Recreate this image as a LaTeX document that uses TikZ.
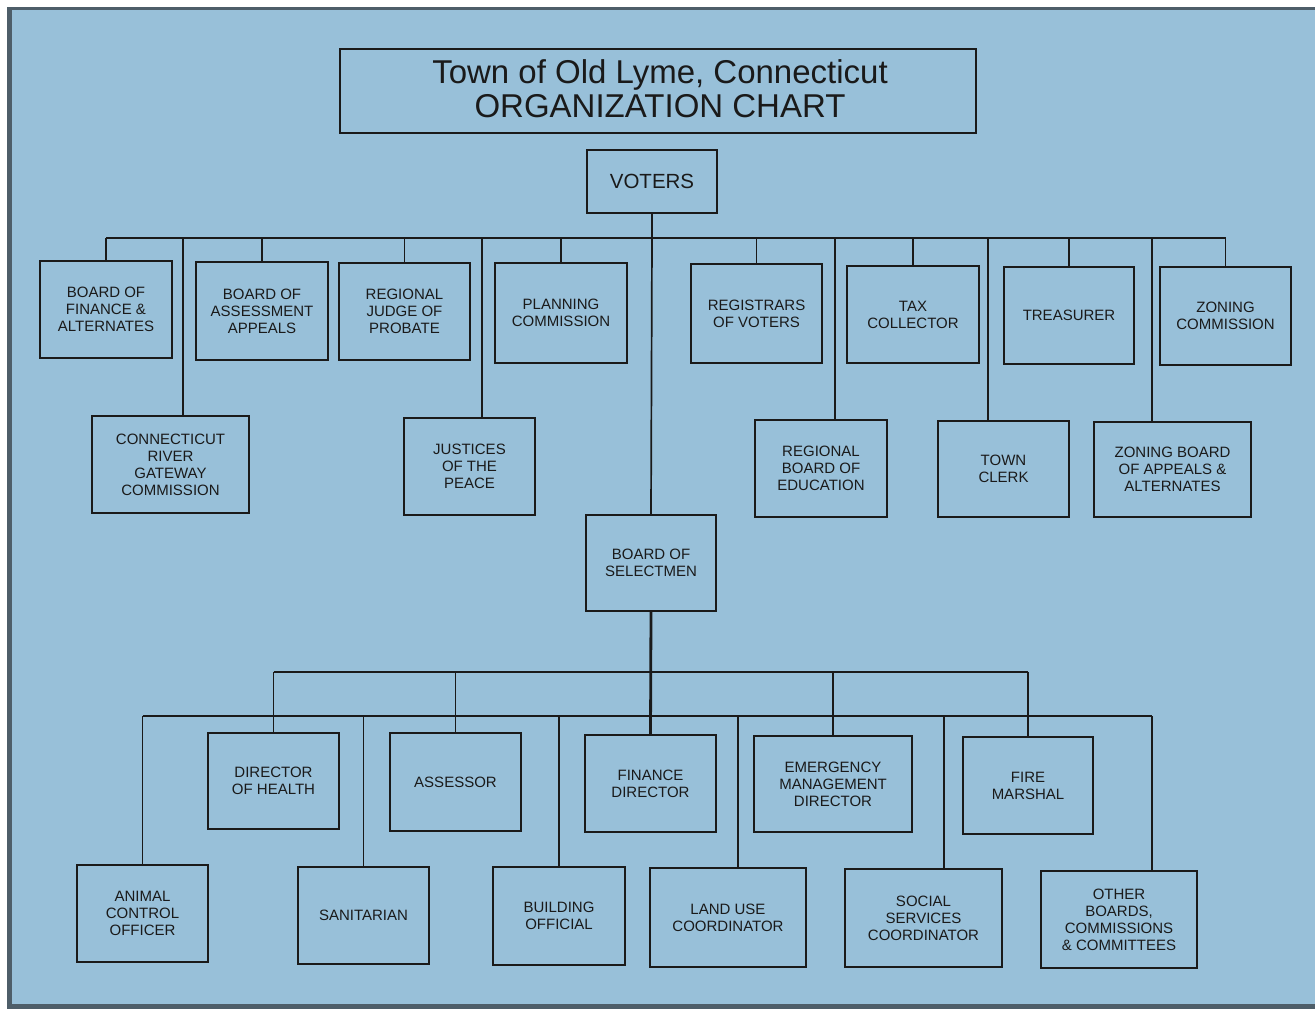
\documentclass[tikz,border=0pt]{standalone}
\usepackage{fontspec}
\setmainfont{Liberation Sans}
\definecolor{bgblue}{HTML}{98C0D9}
\definecolor{frame}{HTML}{4E5E69}
\definecolor{ink}{HTML}{1A1A1A}
\newcommand\obox[6]{\node[box, minimum width={(#4-#2)*1pt}, minimum height={(#5-#3)*1pt}] (#1) at ({(#2+#4)/2},{(#3+#5)/2}) {#6};}
\begin{document}
\begin{tikzpicture}[x=1pt,y=-1pt,
  box/.style={draw=ink, line width=1.7pt, inner sep=0pt, outer sep=0pt, align=center, text=ink,
    font=\fontsize{15}{17}\selectfont},
  titlebox/.style={box, font=\fontsize{33}{34}\selectfont},
  votersbox/.style={box, font=\fontsize{20.5}{22}\selectfont},
  conn/.style={draw=ink, line width=1.7pt},
  trunk/.style={draw=ink, line width=2.8pt}]
\useasboundingbox (0,0) rectangle (1315,1009);
\fill[white] (0,0) rectangle (1315,1009);
\fill[frame] (7,7) rectangle (1315,1009);
\fill[bgblue] (12,9.5) rectangle (1315,1004);

% title
\node[titlebox, minimum width=636pt, minimum height=84pt] (title) at (658,91) {};
\node[align=center, text=ink, font=\fontsize{33}{34}\selectfont, inner sep=0pt] (titletext) at (660,89)
  {Town of Old Lyme, Connecticut\\ORGANIZATION CHART};
\node[votersbox, minimum width=130pt, minimum height=63pt] (voters) at (652,181.5) {VOTERS};

% first row
\obox{bof}{40}{261}{172}{358}{BOARD OF\\FINANCE \&\\ALTERNATES}
\obox{boaa}{196}{262}{328}{360}{BOARD OF\\ASSESSMENT\\APPEALS}
\obox{rjp}{339}{263}{470}{360}{REGIONAL\\JUDGE OF\\PROBATE}
\obox{plan}{495}{263}{627}{363}{PLANNING\\COMMISSION}
\obox{reg}{691}{264}{822}{363}{REGISTRARS\\OF VOTERS}
\obox{tax}{847}{266}{979}{363}{TAX\\COLLECTOR}
\obox{treas}{1004}{267}{1134}{364}{TREASURER}
\obox{zon}{1160}{267}{1291}{365}{ZONING\\COMMISSION}

% second row
\obox{crgc}{92}{416}{249}{513}{CONNECTICUT\\RIVER\\GATEWAY\\COMMISSION}
\obox{jp}{404}{418}{535}{515}{JUSTICES\\OF THE\\PEACE}
\obox{rbe}{755}{420}{887}{517}{REGIONAL\\BOARD OF\\EDUCATION}
\obox{tc}{938}{421}{1069}{517}{TOWN\\CLERK}
\obox{zba}{1094}{422}{1251}{517}{ZONING BOARD\\OF APPEALS \&\\ALTERNATES}

\obox{bos}{586}{515}{716}{611}{BOARD OF\\SELECTMEN}

% lower rows
\obox{doh}{208}{733}{339}{829}{DIRECTOR\\OF HEALTH}
\obox{ass}{390}{733}{521}{831}{ASSESSOR}
\obox{fin}{585}{735}{716}{832}{FINANCE\\DIRECTOR}
\obox{emd}{754}{736}{912}{832}{EMERGENCY\\MANAGEMENT\\DIRECTOR}
\obox{fire}{963}{737}{1093}{834}{FIRE\\MARSHAL}

\obox{acf}{77}{865}{208}{962}{ANIMAL\\CONTROL\\OFFICER}
\obox{san}{298}{867}{429}{964}{SANITARIAN}
\obox{bld}{493}{867}{625}{965}{BUILDING\\OFFICIAL}
\obox{lu}{650}{868}{806}{967}{LAND USE\\COORDINATOR}
\obox{ss}{845}{869}{1002}{967}{SOCIAL\\SERVICES\\COORDINATOR}
\obox{oth}{1041}{871}{1197}{968}{OTHER\\BOARDS,\\COMMISSIONS\\\& COMMITTEES}

% top connectors
\coordinate (tb) at (0,238);
\draw[conn] (bof.north |- tb) -- (zon.north |- tb);
\draw[trunk] (183,238) -- (835,238);
\draw[trunk] (voters.south) -- (voters.south |- tb);
\draw[conn] (voters.south |- tb) -- (bos.north);
\foreach \n in {bof,boaa,rjp,plan,reg,tax,treas,zon}
  \draw[conn] (\n.north) -- (\n.north |- tb);
\coordinate (d1) at (183,238);
\coordinate (d2) at (482,238);
\coordinate (d3) at (835,238);
\coordinate (d4) at (988,238);
\coordinate (d5) at (1152,238);
\draw[conn] (d1) -- (d1 |- crgc.north);
\draw[conn] (d2) -- (d2 |- jp.north);
\draw[conn] (d3) -- (d3 |- rbe.north);
\draw[conn] (d4) -- (d4 |- tc.north);
\draw[conn] (d5) -- (d5 |- zba.north);

% bottom connectors
\coordinate (b1) at (0,672);
\coordinate (b2) at (0,716);
\draw[trunk] (bos.south) -- (fin.north);
\draw[conn] (doh.north |- b1) -- (fire.north |- b1);
\foreach \n in {doh,ass,emd,fire}
  \draw[conn] (\n.north) -- (\n.north |- b1);
\coordinate (e1) at (738,716);
\coordinate (e2) at (944,716);
\coordinate (e3) at (1152,716);
\draw[conn] (acf.north |- b2) -- (e3);
\foreach \n in {acf,san,bld}
  \draw[conn] (\n.north) -- (\n.north |- b2);
\draw[conn] (e1) -- (e1 |- lu.north);
\draw[conn] (e2) -- (e2 |- ss.north);
\draw[conn] (e3) -- (e3 |- oth.north);
\end{tikzpicture}
\end{document}
